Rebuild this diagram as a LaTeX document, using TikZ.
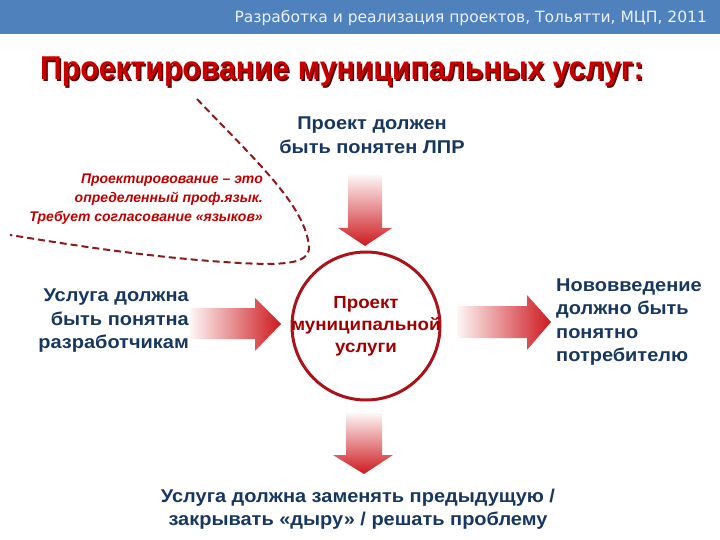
\documentclass[tikz,border=0pt]{standalone}
\usepackage{fontspec}
\setmainfont{Liberation Sans}
\newfontfamily\headfont{DejaVu Sans}
\usepackage{tikz}
\usepackage{xcolor}

\definecolor{headblue}{RGB}{79,129,189}
\definecolor{headtext}{RGB}{236,241,250}
\definecolor{titlered}{RGB}{200,0,0}
\definecolor{titleshadow}{RGB}{90,0,0}
\definecolor{textblue}{RGB}{23,55,94}
\definecolor{circred}{RGB}{170,18,28}
\definecolor{circtext}{RGB}{160,0,0}
\definecolor{noteRed}{RGB}{192,0,0}
\definecolor{dashred}{RGB}{139,26,26}
\definecolor{arrowred}{RGB}{205,25,30}

\begin{document}
\begin{tikzpicture}[x=1pt,y=-1pt]
    \tikzstyle{bluetext}=[text=textblue, inner sep=0pt, xscale=1.08, font=\fontsize{18.5}{23.5}\selectfont\bfseries]
    \tikzstyle{notetext}=[text=noteRed, inner sep=0pt, align=right, font=\fontsize{14}{19}\selectfont\bfseries\itshape]
    \tikzstyle{project}=[circle, draw=circred, line width=3pt, minimum size=148pt, inner sep=0pt]
    \tikzstyle{projtext}=[text=circtext, inner sep=0pt, align=center, xscale=1.07, font=\fontsize{17.5}{22}\selectfont\bfseries]
    \tikzstyle{hshade}=[left color=arrowred!4, right color=arrowred]
    \tikzstyle{vshade}=[top color=arrowred!4, bottom color=arrowred]

    \useasboundingbox (0,0) rectangle (720,540);

    % Header bar and title
    \fill[headblue] (0,0) rectangle (720,34);
    \node[anchor=base east, inner sep=0pt, text=headtext, font=\headfont\fontsize{15.5}{17}\selectfont] (head) at (707,23)
        {Разработка и реализация проектов, Тольятти, МЦП, 2011};
    \node[anchor=base west, inner sep=0pt, text=titleshadow, font=\fontsize{33}{36}\selectfont\bfseries, xscale=0.915] at (41.5,81.5)
        {Проектирование муниципальных услуг:};
    \node[anchor=base west, inner sep=0pt, text=titlered, font=\fontsize{33}{36}\selectfont\bfseries, xscale=0.915] (title) at (40,80)
        {Проектирование муниципальных услуг:};

    % The project in the middle
    \node[project] (proj) at (366,326) {};
    \node[projtext] (projlabel) at (proj.center) {Проект\\муниципальной\\услуги};

    % Requirements round it
    \node[bluetext, align=center] (lpr) at (372,135) {Проект должен\\быть понятен ЛПР};
    \node[bluetext, align=right, anchor=east] (dev) at (189,321) {Услуга должна\\быть понятна\\разработчикам};
    \node[bluetext, align=left, anchor=west] (user) at (556,322) {Нововведение\\должно быть\\понятно\\потребителю};
    \node[bluetext, align=center] (gap) at (358,509) {Услуга должна заменять предыдущую /\\закрывать «дыру» / решать проблему};
    \node[notetext, anchor=east] (lang) at (263,199) {Проектировование – это\\определенный проф.язык.\\Требует согласование «языков»};

    % Block arrows
    \shade[vshade] (348,175) -- (382,175) -- (382,228) -- (392,228) -- (365,246) -- (338,228) -- (348,228) -- cycle;
    \shade[hshade] (190,308) -- (255,308) -- (255,298) -- (281,324) -- (255,351) -- (255,339) -- (190,339) -- cycle;
    \shade[hshade] (457,306) -- (527,306) -- (527,295) -- (551,322) -- (527,350) -- (527,338) -- (457,338) -- cycle;
    \shade[vshade] (346,413) -- (382,413) -- (382,455) -- (393,455) -- (364,474) -- (333,455) -- (346,455) -- cycle;

    % Dashed border of the note
    \draw[dashred, line width=2pt, dash pattern=on 7pt off 4pt]
        (197,99) .. controls (250,155) and (300,200) .. (308,240)
        .. controls (314,262) and (295,266) .. (240,263)
        .. controls (150,258) and (60,243) .. (10,235);
\end{tikzpicture}
\end{document}
